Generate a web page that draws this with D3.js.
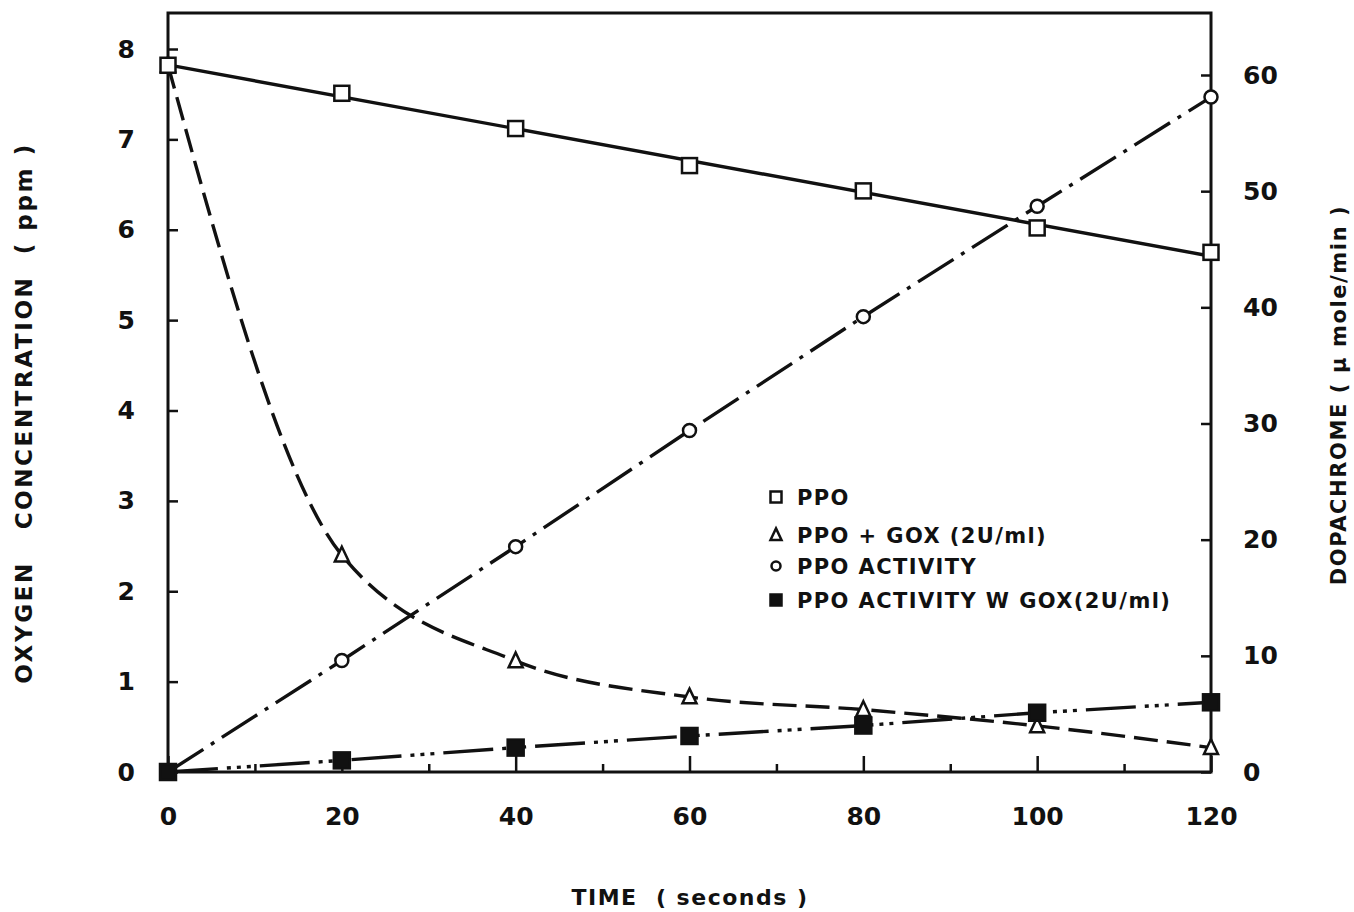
<!DOCTYPE html>
<html>
<head>
<meta charset="utf-8">
<script src="https://cdn.jsdelivr.net/npm/d3@7"></script>
<style>
  body { margin: 0; background: #fff; }
  svg text { font-family: "DejaVu Sans", "Liberation Sans", Arial, sans-serif; font-weight: bold; fill: #111; }
  .axis line { stroke: #111; stroke-width: 2.5; }
  .axis text { font-size: 25px; }
  .series { fill: none; stroke: #111; stroke-width: 3.4; }
</style>
</head>
<body>
<div id="chart"></div>
<script>
// time points (seconds)
var times = [0, 20, 40, 60, 80, 100, 120];

// oxygen concentration, ppm (left axis)
var ppo = [7.82, 7.51, 7.12, 6.71, 6.43, 6.02, 5.75];
var ppoGox = [7.82, 2.40, 1.23, 0.83, 0.69, 0.51, 0.27];

// dopachrome, umole/min (right axis)
var ppoActivity = [0, 9.6, 19.4, 29.4, 39.2, 48.7, 58.1];
var ppoActivityGox = [0, 1.0, 2.1, 3.1, 4.0, 5.1, 6.0];

var xMajor = [0, 20, 40, 60, 80, 100, 120];
var xMinor = [10, 30, 50, 70, 90, 110];
var yLeftTicks = [0, 1, 2, 3, 4, 5, 6, 7, 8];
var yRightTicks = [0, 10, 20, 30, 40, 50, 60];

var legendLabels = ["PPO", "PPO + GOX (2U/ml)", "PPO ACTIVITY", "PPO ACTIVITY W GOX(2U/ml)"];

var width = 1354, height = 912;
var plotLeft = 168, plotRight = 1211, plotTop = 13, plotBottom = 772;

var svg = d3.select("#chart").append("svg")
    .attr("width", width)
    .attr("height", height);

// scales
var xScale = d3.scaleLinear().domain([0, 120]).range([plotLeft, plotRight]);
var yLeft = d3.scaleLinear().domain([0, 8]).range([plotBottom, 49]);
var yRight = d3.scaleLinear().domain([0, 60]).range([plotBottom, 75]);

// axes, ticks pointing into the plot
var xAxis = d3.axisBottom(xScale).tickValues(xMajor).tickSize(-16).tickPadding(35);
var xAxisMinor = d3.axisBottom(xScale).tickValues(xMinor).tickSize(-8).tickFormat("");
var leftAxis = d3.axisLeft(yLeft).tickValues(yLeftTicks).tickSize(-10).tickPadding(33);
var rightAxis = d3.axisRight(yRight).tickValues(yRightTicks).tickSize(-10).tickPadding(32);

svg.append("g").attr("class", "axis")
    .attr("transform", "translate(0," + plotBottom + ")")
    .call(xAxis);
svg.append("g").attr("class", "axis")
    .attr("transform", "translate(0," + plotBottom + ")")
    .call(xAxisMinor);
svg.append("g").attr("class", "axis")
    .attr("transform", "translate(" + plotLeft + ",0)")
    .call(leftAxis);
svg.append("g").attr("class", "axis")
    .attr("transform", "translate(" + plotRight + ",0)")
    .call(rightAxis);
svg.selectAll(".axis .domain").remove();
svg.selectAll(".axis text").attr("fill", "#111");

// frame
svg.append("rect")
    .attr("x", plotLeft)
    .attr("y", plotTop)
    .attr("width", plotRight - plotLeft)
    .attr("height", plotBottom - plotTop)
    .attr("fill", "none")
    .attr("stroke", "#111")
    .attr("stroke-width", 3);

// lines
var curveLeft = d3.line()
    .x(function(d, i) { return xScale(times[i]); })
    .y(function(d) { return yLeft(d); })
    .curve(d3.curveMonotoneX);
var lineRight = d3.line()
    .x(function(d, i) { return xScale(times[i]); })
    .y(function(d) { return yRight(d); });

// PPO: least squares straight line through the points
var tMean = d3.mean(times), pMean = d3.mean(ppo);
var slope = d3.sum(times, function(t, i) { return (t - tMean) * (ppo[i] - pMean); }) /
            d3.sum(times, function(t) { return (t - tMean) * (t - tMean); });
var fitEnds = [times[0], times[times.length - 1]];
svg.append("path")
    .datum(fitEnds)
    .attr("class", "series")
    .attr("d", d3.line()
        .x(function(t) { return xScale(t); })
        .y(function(t) { return yLeft(pMean + slope * (t - tMean)); }));

svg.append("path")
    .datum(ppoGox)
    .attr("class", "series")
    .attr("stroke-dasharray", "24,9")
    .attr("d", curveLeft);

svg.append("path")
    .datum(ppoActivity)
    .attr("class", "series")
    .attr("stroke-dasharray", "42,9,4,9")
    .attr("d", lineRight);

svg.append("path")
    .datum(ppoActivityGox)
    .attr("class", "series")
    .attr("stroke-dasharray", "50,9,4,6,4,6,4,9")
    .attr("d", lineRight);

// markers
function squareMark(g, cx, cy, s, filled) {
    g.append("rect")
        .attr("x", cx - s / 2).attr("y", cy - s / 2)
        .attr("width", s).attr("height", s)
        .attr("fill", filled ? "#111" : "#fff")
        .attr("stroke", "#111").attr("stroke-width", 2.5);
}
function triangleMark(g, cx, cy, s) {
    g.append("path")
        .attr("d", "M" + cx + "," + (cy - s * 0.6) + "L" + (cx + s / 2) + "," + (cy + s * 0.45) + "L" + (cx - s / 2) + "," + (cy + s * 0.45) + "Z")
        .attr("fill", "#fff").attr("stroke", "#111").attr("stroke-width", 2.5);
}
function circleMark(g, cx, cy, r) {
    g.append("circle")
        .attr("cx", cx).attr("cy", cy).attr("r", r)
        .attr("fill", "#fff").attr("stroke", "#111").attr("stroke-width", 2.5);
}

var marks = svg.append("g");
times.forEach(function(t, i) {
    triangleMark(marks, xScale(t), yLeft(ppoGox[i]), 14);
    circleMark(marks, xScale(t), yRight(ppoActivity[i]), 6.5);
    squareMark(marks, xScale(t), yLeft(ppo[i]), 15, false);
    squareMark(marks, xScale(t), yRight(ppoActivityGox[i]), 16, true);
});

// legend
var legend = svg.append("g").attr("transform", "translate(776,497)");
var rowY = [0, 38, 69, 103];
squareMark(legend, 0, rowY[0], 11, false);
triangleMark(legend, 0, rowY[1], 11);
circleMark(legend, 0, rowY[2], 4.5);
squareMark(legend, 0, rowY[3], 11, true);
legend.selectAll("text.lab")
    .data(legendLabels)
    .enter().append("text")
    .attr("class", "lab")
    .attr("x", 21)
    .attr("y", function(d, i) { return rowY[i] + 8; })
    .attr("font-size", 21)
    .attr("letter-spacing", 1.4)
    .text(function(d) { return d; });

// axis titles
svg.append("text")
    .attr("transform", "translate(32,413) rotate(-90)")
    .attr("text-anchor", "middle")
    .attr("font-size", 23)
    .attr("letter-spacing", 2.6)
    .attr("xml:space", "preserve")
    .text("OXYGEN   CONCENTRATION  ( ppm )");

svg.append("text")
    .attr("transform", "translate(1346,395) rotate(-90)")
    .attr("text-anchor", "middle")
    .attr("font-size", 21)
    .attr("letter-spacing", 1.6)
    .text("DOPACHROME ( \u00b5 mole/min )");

svg.append("text")
    .attr("x", 690)
    .attr("y", 905)
    .attr("text-anchor", "middle")
    .attr("font-size", 22)
    .attr("letter-spacing", 1.5)
    .attr("xml:space", "preserve")
    .text("TIME  ( seconds )");
</script>
</body>
</html>
